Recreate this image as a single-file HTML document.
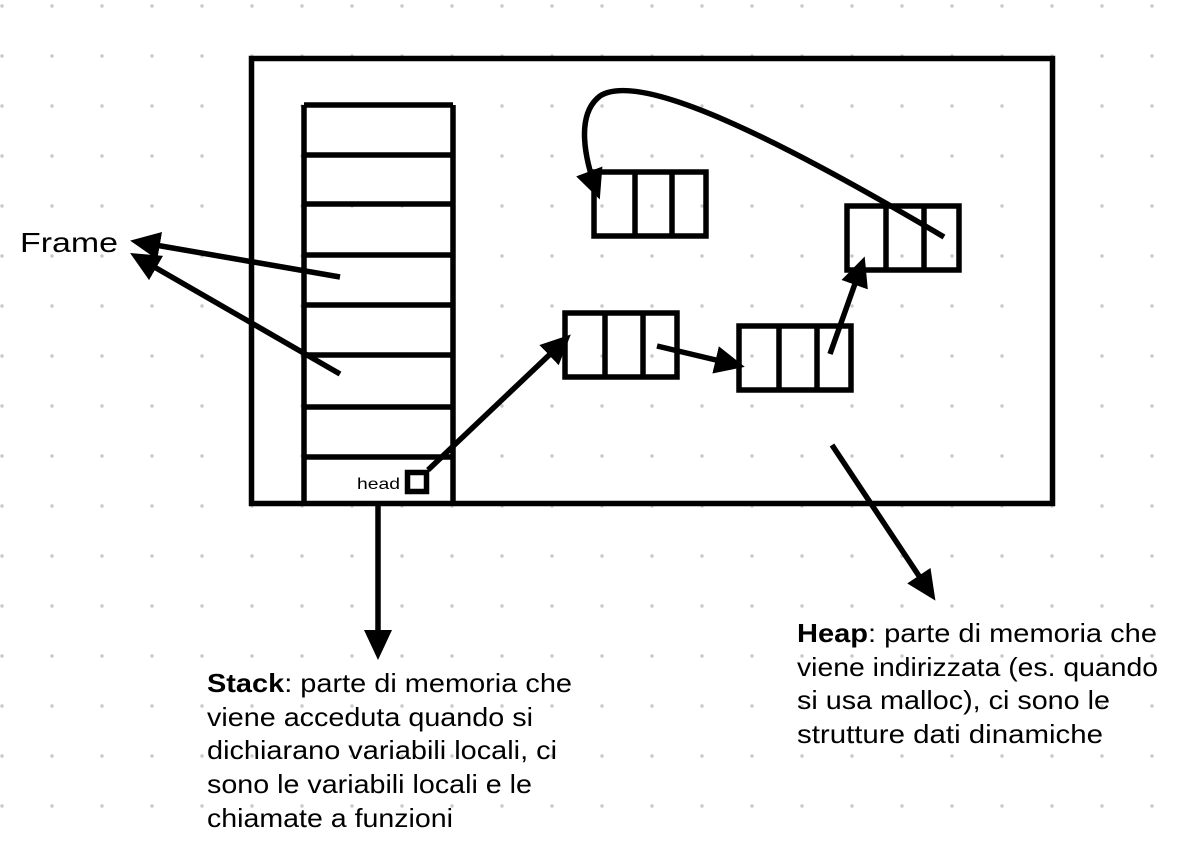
<!DOCTYPE html>
<html><head><meta charset="utf-8"><style>
html,body{margin:0;padding:0;background:#fff;}
svg{display:block;}
text{font-family:"Liberation Sans",sans-serif;fill:#000;}
</style></head><body>
<svg width="1180" height="854" viewBox="0 0 1180 854" xmlns="http://www.w3.org/2000/svg">
<defs>
<pattern id="dots" x="0" y="0" width="50" height="50" patternUnits="userSpaceOnUse">
<circle cx="2" cy="6" r="1.7" fill="#c8c8c8"/>
</pattern>
<marker id="ah" markerUnits="userSpaceOnUse" markerWidth="34" markerHeight="34" refX="22" refY="14" orient="auto">
<path d="M0,0 L30,14 L0,28 z" fill="#000"/>
</marker>
</defs>
<rect width="1180" height="854" fill="url(#dots)"/>
<g fill="none" stroke="#000" stroke-width="5.5">
<rect x="251.5" y="58.5" width="801" height="445"/>
<!-- frame arrows -->
<line x1="340" y1="277" x2="138" y2="242" marker-end="url(#ah)"/>
<line x1="340" y1="374" x2="137" y2="257" marker-end="url(#ah)"/>
<!-- stack -->
<line x1="304" y1="105" x2="304" y2="503"/>
<line x1="453" y1="105" x2="453" y2="503"/>
<line x1="304" y1="105" x2="453" y2="105"/>
<line x1="304" y1="155" x2="453" y2="155"/>
<line x1="304" y1="204" x2="453" y2="204"/>
<line x1="304" y1="255" x2="453" y2="255"/>
<line x1="304" y1="305" x2="453" y2="305"/>
<line x1="304" y1="355" x2="453" y2="355"/>
<line x1="304" y1="407" x2="453" y2="407"/>
<line x1="304" y1="457" x2="453" y2="457"/>
<rect x="407.5" y="472.5" width="19" height="19"/>
<!-- boxes -->
<rect x="594" y="172" width="112" height="64"/>
<line x1="635" y1="172" x2="635" y2="236"/><line x1="672" y1="172" x2="672" y2="236"/>
<rect x="847" y="206" width="112" height="64"/>
<line x1="886" y1="206" x2="886" y2="270"/><line x1="924" y1="206" x2="924" y2="270"/>
<rect x="565" y="313" width="112" height="64"/>
<line x1="605" y1="313" x2="605" y2="377"/><line x1="643" y1="313" x2="643" y2="377"/>
<rect x="739" y="326" width="112" height="64"/>
<line x1="779" y1="326" x2="779" y2="390"/><line x1="817" y1="326" x2="817" y2="390"/>
<!-- connectors -->
<line x1="428" y1="470" x2="565" y2="340" marker-end="url(#ah)"/>
<line x1="657" y1="346" x2="737" y2="365" marker-end="url(#ah)"/>
<line x1="830" y1="354" x2="862" y2="264" marker-end="url(#ah)"/>
<path d="M944,237 C780,140 640,70 600,96 C575,115 585,160 597,192" marker-end="url(#ah)"/>
<line x1="378" y1="505" x2="378" y2="652" marker-end="url(#ah)"/>
<line x1="832" y1="445" x2="931" y2="594" marker-end="url(#ah)"/>
</g>
<text x="20" y="252" font-size="28" textLength="98" lengthAdjust="spacingAndGlyphs">Frame</text>
<text x="357" y="489" font-size="16" textLength="43" lengthAdjust="spacingAndGlyphs">head</text>
<g font-size="26" lengthAdjust="spacingAndGlyphs">
<text x="207" y="692" textLength="365" lengthAdjust="spacingAndGlyphs"><tspan font-weight="bold">Stack</tspan>: parte di memoria che</text>
<text x="207" y="726" textLength="326" lengthAdjust="spacingAndGlyphs">viene acceduta quando si</text>
<text x="207" y="759" textLength="350" lengthAdjust="spacingAndGlyphs">dichiarano variabili locali, ci</text>
<text x="207" y="793" textLength="325" lengthAdjust="spacingAndGlyphs">sono le variabili locali e le</text>
<text x="207" y="827" textLength="246" lengthAdjust="spacingAndGlyphs">chiamate a funzioni</text>
<text x="797" y="642" textLength="360" lengthAdjust="spacingAndGlyphs"><tspan font-weight="bold">Heap</tspan>: parte di memoria che</text>
<text x="797" y="676" textLength="361" lengthAdjust="spacingAndGlyphs">viene indirizzata (es. quando</text>
<text x="797" y="709" textLength="313" lengthAdjust="spacingAndGlyphs">si usa malloc), ci sono le</text>
<text x="797" y="743" textLength="306" lengthAdjust="spacingAndGlyphs">strutture dati dinamiche</text>
</g>
</svg>
</body></html>
